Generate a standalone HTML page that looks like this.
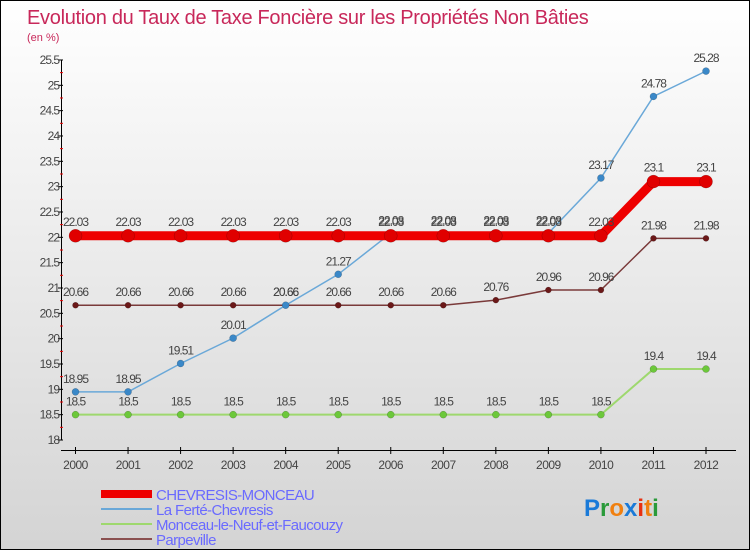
<!DOCTYPE html>
<html><head><meta charset="utf-8">
<style>
html,body{margin:0;padding:0}
body{width:750px;height:550px;overflow:hidden;font-family:"Liberation Sans",sans-serif}
#wrap{position:relative;width:748px;height:548px;border:1px solid #000;background:linear-gradient(#ffffff,#d4d4d4)}
text{font-family:"Liberation Sans",sans-serif}
</style></head><body>
<div id="wrap">
<svg id="chart" width="748" height="548"></svg>
</div>
<script>
const years=["2000","2001","2002","2003","2004","2005","2006","2007","2008","2009","2010","2011","2012"];
const chevresis=[22.03,22.03,22.03,22.03,22.03,22.03,22.03,22.03,22.03,22.03,22.03,23.1,23.1];
const laferte=[18.95,18.95,19.51,20.01,20.66,21.27,22.08,22.08,22.08,22.08,23.17,24.78,25.28];
const monceau=[18.5,18.5,18.5,18.5,18.5,18.5,18.5,18.5,18.5,18.5,18.5,19.4,19.4];
const parpeville=[20.66,20.66,20.66,20.66,20.66,20.66,20.66,20.66,20.76,20.96,20.96,21.98,21.98];
const yTicks=[18,18.5,19,19.5,20,20.5,21,21.5,22,22.5,23,23.5,24,24.5,25,25.5];
const seriesNames=["CHEVRESIS-MONCEAU","La Ferté-Chevresis","Monceau-le-Neuf-et-Faucouzy","Parpeville"];

const NS="http://www.w3.org/2000/svg";
const svg=document.getElementById('chart');
function X(i){return 74.5+i*(705-74.5)/(years.length-1);}
function Y(v){return 439-(v-18)*50.67;}
function mk(tag,attrs,parent){const e=document.createElementNS(NS,tag);for(const k in attrs)e.setAttribute(k,attrs[k]);(parent||svg).appendChild(e);return e;}
function fmt(v){return String(v);}

let t=mk('text',{x:26,y:23,'font-size':20,fill:'#c8285a','letter-spacing':'-0.3'});t.textContent="Evolution du Taux de Taxe Foncière sur les Propriétés Non Bâties";

t=mk('text',{x:26,y:40,'font-size':11,fill:'#c8285a'});t.textContent="(en %)";


let ax=mk('line',{x1:60.5,y1:Y(25.5),x2:60.5,y2:Y(18),stroke:'#000','stroke-width':1});

yTicks.forEach((v,i)=>{
  mk('line',{x1:57,x2:62,y1:Y(v),y2:Y(v),stroke:'#000'});
  if(i<yTicks.length-1) mk('line',{x1:59,x2:62,y1:Y(v+0.25),y2:Y(v+0.25),stroke:'#e00'});
  const l=mk('text',{x:58,y:Y(v)+4,'font-size':12,'text-anchor':'end',fill:'#444','letter-spacing':'-1'});
  l.textContent=fmt(v);
  
});
ax=mk('line',{x1:60,y1:449.5,x2:735,y2:449.5,stroke:'#000'});

years.forEach((y,i)=>{
  mk('line',{x1:X(i),x2:X(i),y1:446,y2:453,stroke:'#000'});
  const l=mk('text',{x:X(i),y:468,'font-size':12,'text-anchor':'middle',fill:'#444','letter-spacing':'-0.5'});
  l.textContent=y;
  
});

function series(data,name,color,dot,w,r,dy){
  const g=mk('g',{});
  
  mk('polyline',{points:data.map((v,i)=>X(i)+','+Y(v)).join(' '),fill:'none',stroke:color,'stroke-width':w},g);
  data.forEach((v,i)=>{
    const c=mk('circle',{cx:X(i),cy:Y(v),r:r,fill:dot,stroke:'rgba(0,0,0,0.3)','stroke-width':0.5},g);
    
    const l=mk('text',{x:X(i),y:Y(v)-dy,'font-size':12,'text-anchor':'middle',fill:'#444','letter-spacing':'-1'},g);
    l.textContent=fmt(v);
    
  });
}
series(parpeville,'series-parpeville','#7a3a3a','#6b1818',1.5,3,9);
series(monceau,'series-monceau','#9ed86e','#6cc83a',2,3.5,9);
series(laferte,'series-laferte','#6aa8d8','#3a88c8',1.5,3.5,9);
series(chevresis,'series-chevresis','#ee0000','#e00000',9,6.5,10);

const lc=[['#ee0000',8],['#6aa8d8',2],['#9ed86e',2],['#8a5050',2]];
seriesNames.forEach((n,i)=>{
  const y=493+i*15;
  const g=mk('g',{});
  
  mk('line',{x1:100,x2:151,y1:y,y2:y,stroke:lc[i][0],'stroke-width':lc[i][1]},g);
  const l=mk('text',{x:155,y:y+6,'font-size':15,fill:'#6a6aff','letter-spacing':'-0.6'},g);
  l.textContent=n;
});
const logo=mk('text',{x:583,y:515,'font-size':24,'font-weight':'bold'});

[['P','#1a7ad8'],['r','#2a9a3a'],['o','#f08010'],['x','#1a7ad8'],['i','#e83010'],['t','#f08010'],['i','#2a9a3a']].forEach(([c,col])=>{
  const s=mk('tspan',{fill:col},logo);s.textContent=c;
});
</script>
</body></html>
